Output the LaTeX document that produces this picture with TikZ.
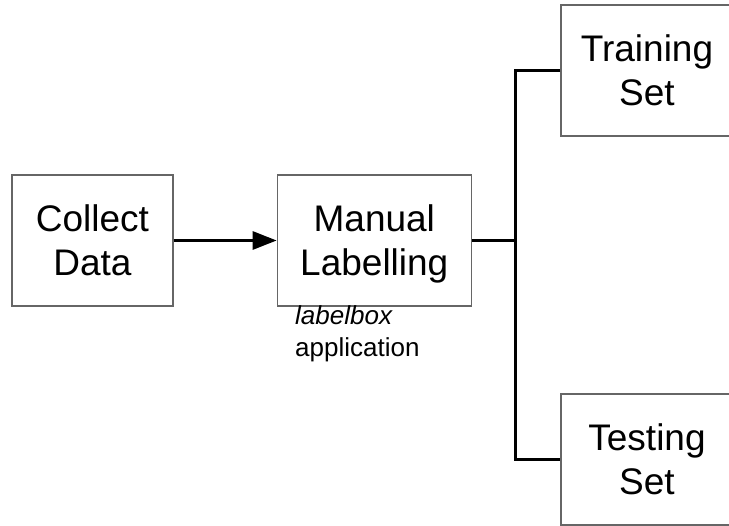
\documentclass[tikz,border=0pt]{standalone}
\usepackage{fontspec}
\setmainfont{Liberation Sans}
\usetikzlibrary{positioning,arrows.meta}

\begin{document}
\begin{tikzpicture}[
			x=1pt,y=-1pt,
			>={Triangle[length=24pt,width=18pt]},
			box/.style={
				draw=black!60,
				line width=1.3pt,
				fill=white,
				rectangle,
				minimum height=131pt,
				inner sep=0pt,
				text depth=0pt,
				align=center,
				font=\fontsize{37}{44}\selectfont
			},
			link/.style={line width=3pt}
			]
			\useasboundingbox (0,0) rectangle (729,526);
			\clip (0,0) rectangle (729,526);
			% Steps of the pipeline
			\node[box, minimum width=161pt] (collect) at (92.5,240.5) {Collect\\Data};
			\node[box, minimum width=194pt, right=103pt of collect] (manual) {Manual\\Labelling};
			\node[box, minimum width=172pt] (training) at (647,70.5) {Training\\Set};
			\node[box, minimum width=172pt] (testing) at (647,459.5) {Testing\\Set};
			
			% Note under the labelling box
			\node[anchor=north west, align=left, inner sep=0pt,
				font=\fontsize{26}{32}\selectfont] (tool) at (295,305) {\textit{labelbox}\\application};
			
			% Split point
			\coordinate (split) at (515,240.5);
			
			% Connectors
			\draw[link,->] (collect) -- (manual);
			\draw[link] (manual) -- (split);
			\draw[link] (training.west) -| (split) |- (testing.west);
		\end{tikzpicture}
\end{document}
